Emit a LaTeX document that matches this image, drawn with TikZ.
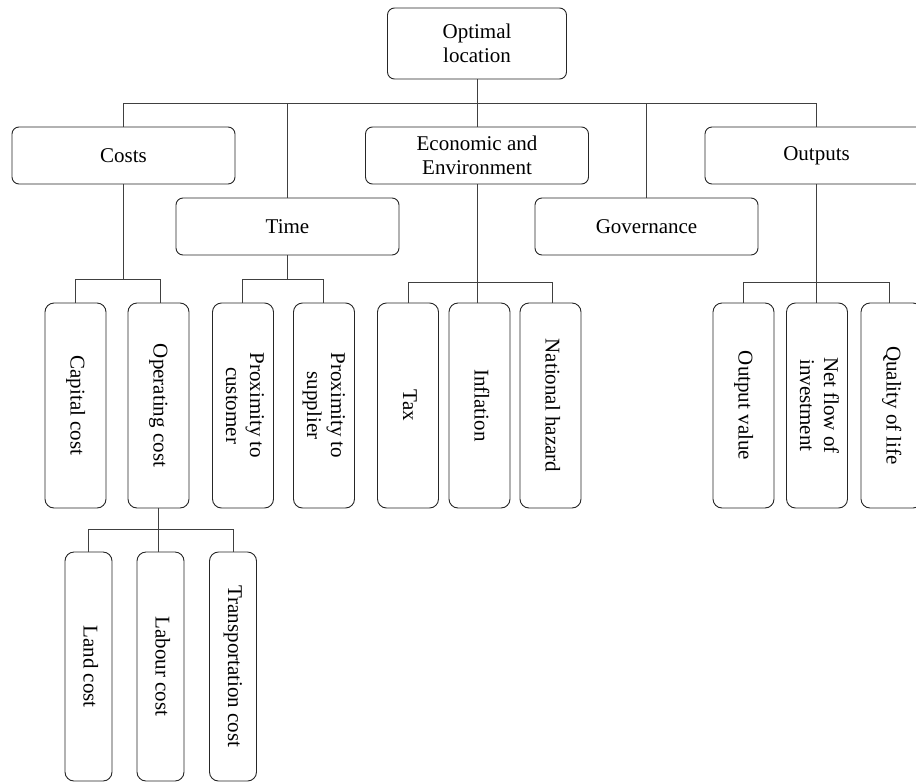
\documentclass[tikz,border=0pt]{standalone}
\usepackage{fontspec}
\usepackage{graphicx}
\usetikzlibrary{calc}
\setmainfont{Liberation Serif}
\newcommand{\vtext}[1]{\rotatebox{-90}{\begin{tabular}{@{}c@{}}#1\end{tabular}}}
\begin{document}
\begin{tikzpicture}[x=1pt,y=-1pt,
  every node/.style={font=\fontsize{21}{24}\selectfont},
  hbox/.style={draw=black!85, line width=0.9pt, rounded corners=7pt, inner sep=0pt,
    minimum width=223pt, minimum height=57pt, align=center},
  topbox/.style={hbox, minimum width=179pt, minimum height=71pt},
  vbox/.style={draw=black!85, line width=0.9pt, rounded corners=9pt, inner sep=0pt,
    minimum width=61pt, minimum height=205pt},
  lbox/.style={vbox, minimum width=47pt, minimum height=229pt},
  conn/.style={draw=black!75, line width=0.8pt}]
\useasboundingbox (0,0) rectangle (916,782);
\clip (0,0) rectangle (916,782);

% root and first level
\node[topbox] (opt) at (477,43.5) {Optimal\\location};
\node[hbox] (costs)   at (123.5,155.5) {Costs};
\node[hbox] (econ)    at (477,155.5)   {Economic and\\Environment};
\node[hbox] (outputs) at (816.5,155.5) {Outputs};
\node[hbox] (time)    at (287.5,226.5) {Time};
\node[hbox] (gov)     at (646.5,226.5) {Governance};

% second level
\node[vbox] (capital)  at (75.5,405.5)  {\vtext{Capital cost}};
\node[vbox] (oper)     at (158.5,405.5) {\vtext{Operating cost}};
\node[vbox] (proxcust) at (243,405.5)   {\vtext{Proximity to\\customer}};
\node[vbox] (proxsup)  at (324,405.5)   {\vtext{Proximity to\\supplier}};
\node[vbox] (tax)      at (408,405.5)   {\vtext{Tax}};
\node[vbox] (infl)     at (479.5,405.5) {\vtext{Inflation}};
\node[vbox] (hazard)   at (550.5,405.5) {\vtext{National hazard}};
\node[vbox] (outval)   at (743.5,405.5) {\vtext{Output value}};
\node[vbox] (netflow)  at (817,405.5)   {\vtext{Net flow of\\investment}};
\node[vbox] (quality)  at (891.5,405.5) {\vtext{Quality of life}};

% third level
\node[lbox] (land)      at (88.5,666.5) {\vtext{Land cost}};
\node[lbox] (labour)    at (160.5,666.5) {\vtext{Labour cost}};
\node[lbox] (transport) at (233,666.5)   {\vtext{Transportation cost}};

% root connectors
\coordinate (bar) at (0,103);
\draw[conn] (costs.north) |- (bar -| outputs.north) -- (outputs.north);
\draw[conn] (opt.south) -- (econ.north);
\draw[conn] (time.north) -- (time.north |- bar);
\draw[conn] (gov.north) -- (gov.north |- bar);

% costs branch
\draw[conn] (costs.south) -- ++(0,95) coordinate (cj);
\draw[conn] (capital.north) |- (cj) -| ([xshift=2pt]oper.north);

% time branch
\draw[conn] (time.south) -- ++(0,24) coordinate (tj);
\draw[conn] ([xshift=-1pt]proxcust.north) |- (tj) -| ([xshift=-1pt]proxsup.north);

% economic branch
\draw[conn] (econ.south) -- (econ.south |- infl.north);
\draw[conn] (tax.north) |- ($(econ.south)+(0,98)$) -| ([xshift=1.5pt]hazard.north);

% outputs branch
\draw[conn] (outputs.south) -- ++(0,98) coordinate (oj);
\draw[conn] (outval.north) |- (oj) -| ([xshift=-2.5pt]quality.north);
\draw[conn] (oj) -- (oj |- netflow.north);

% operating cost branch
\draw[conn] (oper.south) -- ++(0,21) coordinate (lj);
\draw[conn] (land.north) |- (lj) -| (transport.north);
\draw[conn] (lj) -- (lj |- labour.north);
\end{tikzpicture}
\end{document}
